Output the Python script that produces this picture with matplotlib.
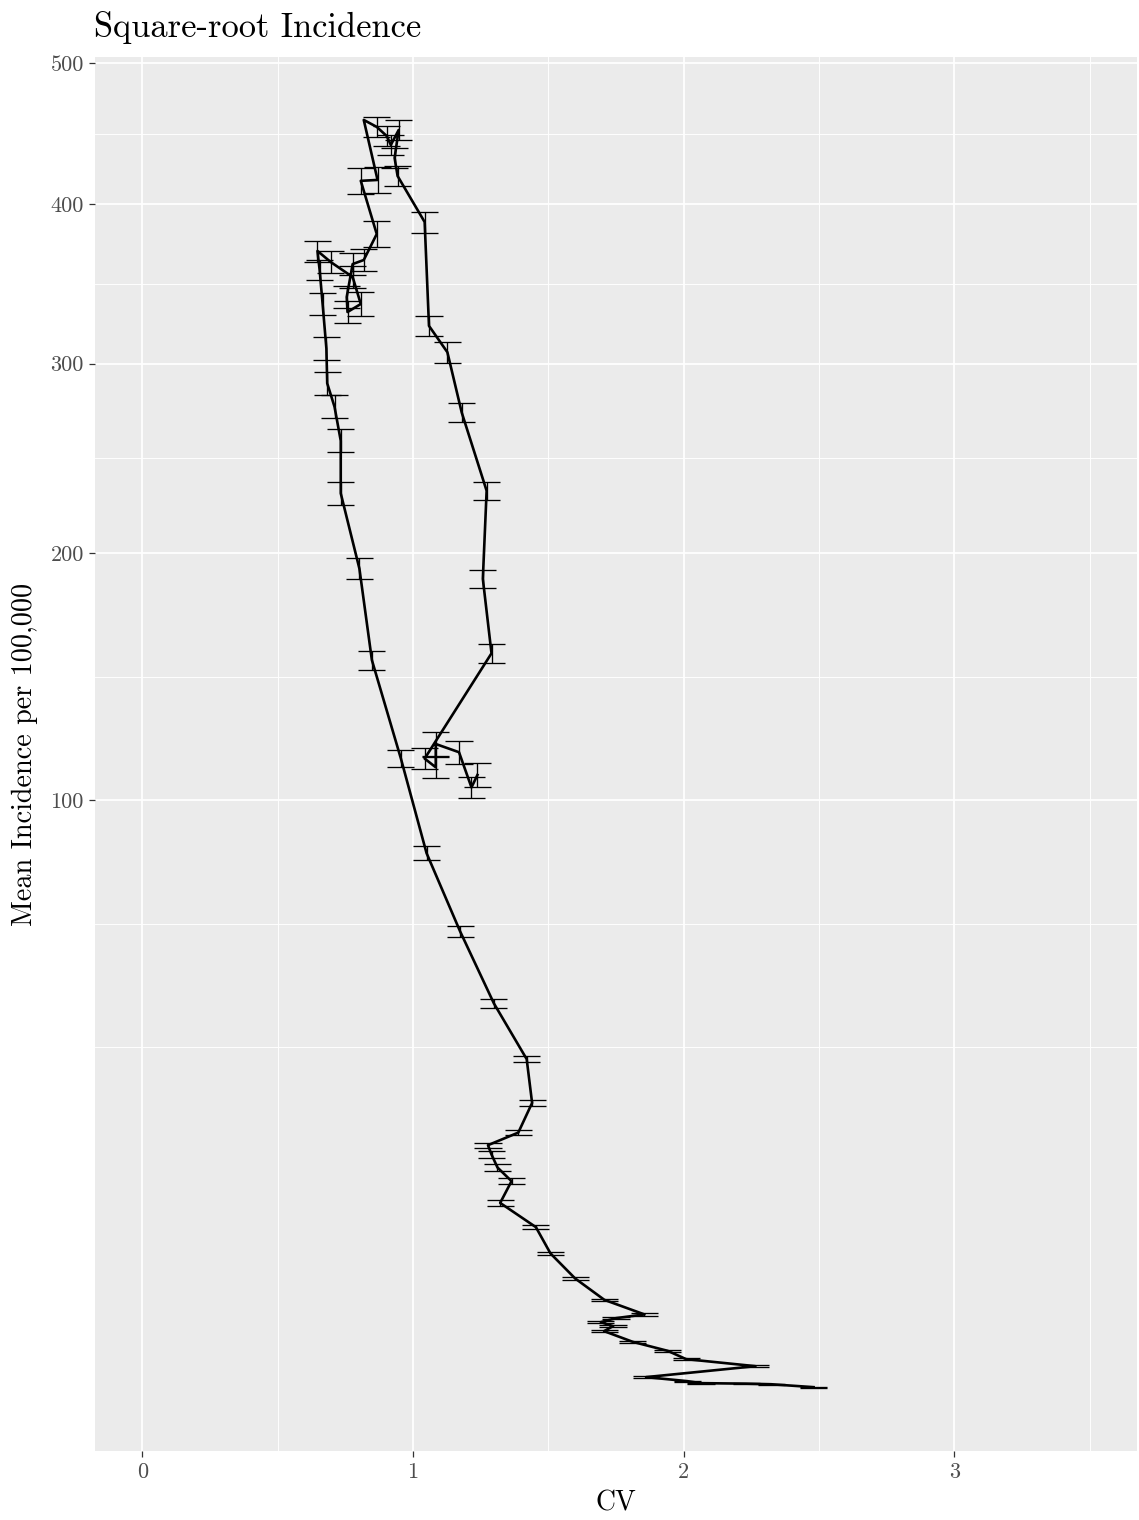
import numpy as np
import matplotlib.pyplot as plt

plt.rcParams['font.family'] = 'cmr10'
plt.rcParams['axes.formatter.use_mathtext'] = True

# coefficient of variation, mean incidence and its standard error, in time order
# (nan = no error bar for that point)
cv = [1.238, 1.216, 1.170, 1.084, 1.084, 1.043, 1.290, 1.258, 1.272, 1.180,
      1.127, 1.059, 1.043, 0.943, 0.932, 0.947, 0.918, 0.903, 0.866, 0.818,
      0.869, 0.807, 0.866, 0.818, 0.777, 0.755, 0.758, 0.807, 0.777, 0.696,
      0.647, 0.655, 0.666, 0.680, 0.683, 0.710, 0.733, 0.733, 0.802, 0.848,
      0.955, 1.050, 1.174, 1.299, 1.420, 1.440, 1.389, 1.277, 1.290, 1.312,
      1.364, 1.322, 1.454, 1.508, 1.599, 1.707, 1.855, 1.750, 1.694, 1.739,
      1.706, 1.812, 1.941, 2.009, 2.265, 1.861, 2.013, 2.064, 2.231, 2.323,
      2.480]
incidence = [108.6, 104.3, 116.7, 119.7, 111.3, 114.4, 155.3, 188.0, 230.7, 272.3,
             306.7, 322.4, 388.0, 419.0, 431.5, 451.2, 440.6, 446.9, 453.4, 458.4,
             416.3, 415.7, 380.1, 363.3, 360.7, 340.0, 330.8, 335.7, 352.5, 362.0,
             369.1, 356.9, 335.7, 308.8, 288.7, 275.5, 256.9, 229.4, 192.7, 152.5,
             114.5, 83.0, 60.8, 43.4, 31.97, 24.20, 19.55, 17.73, 16.44, 14.72,
             13.01, 10.51, 8.04, 5.73, 3.90, 2.61, 1.88, 1.713, 1.542, 1.379,
             1.190, 0.830, 0.578, 0.386, 0.253, 0.102, 0.0635, 0.0476, 0.044, 0.040,
             0.0228]
se = [4.09, 3.70, 4.06, 4.29, 3.72, 3.66, 3.97, 4.05, 4.59, 5.43,
      6.05, 6.15, 6.94, 6.87, 6.97, 7.13, 7.04, 7.09, 7.14, np.nan,
      8.90, 8.89, 8.51, 7.04, 7.01, 6.99, 6.90, 7.38, 6.93, 7.02,
      6.77, 6.34, 6.76, 6.66, 6.56, 6.41, 6.19, 5.69, 4.89, 3.94,
      2.98, 2.14, 1.39, 1.00, 0.63, 0.46, 0.37, 0.33, 0.45, 0.42,
      0.34, 0.30, 0.19, 0.137, 0.113, 0.070, 0.055, 0.053, 0.050, 0.047,
      0.044, 0.031, 0.020, 0.017, 0.012, 0.0075, 0.005, 0.004, 0.0035, 0.0034,
      0.0025]

y_breaks = [100, 200, 300, 400, 500]
x_breaks = [0, 1, 2, 3]


def sqrt_fwd(v):
    v = np.asarray(v, dtype=float)
    return np.sign(v) * np.sqrt(np.abs(v))


def sqrt_inv(v):
    v = np.asarray(v, dtype=float)
    return np.sign(v) * v ** 2


cv = np.array(cv)
incidence = np.array(incidence)
se = np.array(se)
has_bar = ~np.isnan(se)
bx = cv[has_bar]
lo = (incidence - se)[has_bar]
hi = (incidence + se)[has_bar]

W, H = 1139, 1520
fig = plt.figure(figsize=(W / 100, H / 100), dpi=100)
ax = fig.add_axes([95 / W, 1 - 1451 / H, (1137 - 95) / W, (1451 - 57) / H])
ax.set_facecolor('#EBEBEB')
for s in ax.spines.values():
    s.set_visible(False)

ax.set_yscale('function', functions=(sqrt_fwd, sqrt_inv))

# error bars with caps 0.1 CV wide, then the path through the means
ax.vlines(bx, lo, hi, color='black', lw=0.95, zorder=3)
ax.hlines(lo, bx - 0.05, bx + 0.05, color='black', lw=0.95, zorder=3)
ax.hlines(hi, bx - 0.05, bx + 0.05, color='black', lw=0.95, zorder=3)
ax.plot(cv, incidence, color='black', lw=1.9, solid_joinstyle='round', zorder=4)

ax.set_xlim(-0.175, 3.675)
ax.set_ylim(sqrt_inv(-0.92), sqrt_inv(22.466))

# minor breaks sit halfway between the majors in sqrt space
s_major = np.sqrt(y_breaks)
s_ext = np.concatenate([[s_major[0] - (s_major[1] - s_major[0])], s_major])
y_minor = sqrt_inv(np.concatenate([[s_ext[0]], (s_ext[:-1] + s_ext[1:]) / 2]))

ax.set_xticks(x_breaks)
ax.set_xticklabels([str(x) for x in x_breaks])
ax.set_xticks([0.5, 1.5, 2.5, 3.5], minor=True)
ax.set_yticks(y_breaks)
ax.set_yticklabels([str(y) for y in y_breaks])
ax.set_yticks(y_minor, minor=True)

ax.grid(which='major', color='white', lw=1.25)
ax.grid(which='minor', color='white', lw=0.65)
ax.set_axisbelow(True)
ax.tick_params(which='major', length=4, width=0.9, color='#333333',
               labelcolor='#4D4D4D', labelsize=16, pad=4)
ax.tick_params(which='minor', length=0)

fig.text(94 / W, 1 - 37 / H, 'Square-root Incidence', fontsize=24.8,
         ha='left', va='baseline')
fig.text(616 / W, 1 - 1503 / H, 'CV', fontsize=20, ha='center', va='center')
fig.text(25 / W, 1 - 754 / H, 'Mean Incidence per 100,000', fontsize=20.3,
         rotation=90, ha='center', va='center')

fig.savefig('out.png', dpi=100)
